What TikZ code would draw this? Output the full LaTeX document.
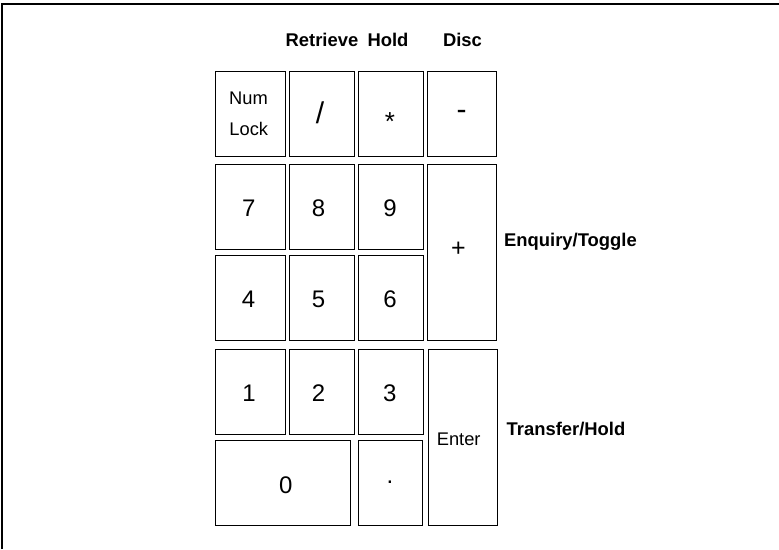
\documentclass[tikz,border=0pt]{standalone}
\usepackage{fontspec}
\setmainfont{Liberation Sans}
\begin{document}
\begin{tikzpicture}[x=1pt,y=-1pt,
  keybox/.style={draw=black,line width=1pt,fill=white},
  digit/.style={inner sep=0pt,anchor=base,font=\fontsize{24}{28}\selectfont},
  keytext/.style={inner sep=0pt,anchor=base,font=\fontsize{18.3}{22}\selectfont},
  boldlabel/.style={inner sep=0pt,font=\fontsize{18.4}{22}\selectfont\bfseries}]
\useasboundingbox (0,0) rectangle (779,549);
% frame
\coordinate (fbl) at (2.2,549);
\coordinate (ftl) at (2.2,4.3);
\coordinate (ftr) at (779,4.3);
\draw[line width=2pt] (fbl) -- (ftl) -- (ftr);
% key boxes
\draw[keybox] (215.3,71.7) rectangle (285.3,156.0);
\draw[keybox] (289.3,71.7) rectangle (354.3,156.0);
\draw[keybox] (358.3,71.7) rectangle (423.3,156.0);
\draw[keybox] (427.3,71.7) rectangle (496.3,156.0);
\draw[keybox] (215.3,164.3) rectangle (285.3,249.3);
\draw[keybox] (289.3,164.3) rectangle (354.3,249.3);
\draw[keybox] (358.3,164.3) rectangle (423.3,249.3);
\draw[keybox] (215.3,255.3) rectangle (285.3,340.7);
\draw[keybox] (289.3,255.3) rectangle (354.3,340.7);
\draw[keybox] (358.3,255.3) rectangle (423.3,340.7);
\draw[keybox] (427.3,164.3) rectangle (496.3,340.7);
\draw[keybox] (215.3,349.3) rectangle (285.3,434.3);
\draw[keybox] (289.3,349.3) rectangle (354.3,434.3);
\draw[keybox] (358.3,349.3) rectangle (423.3,434.3);
\draw[keybox] (215.3,440.3) rectangle (350.3,525.3);
\draw[keybox] (358.3,440.3) rectangle (422.7,525.3);
\draw[keybox] (428.3,349.3) rectangle (497.3,525.3);
% key texts
\node[keytext] (tnum) at (248.5,104.3) {Num};
\node[keytext] (tlock) at (248.8,135) {Lock};
\node[digit,font=\fontsize{30}{32}\selectfont] (tslash) at (320,123) {/};
\node[digit,font=\fontsize{26}{30}\selectfont] (tstar) at (390,130.5) {*};
\node[digit,font=\fontsize{30}{32}\selectfont] (tminus) at (461.7,119) {-};
\node[digit] (t7) at (248.8,216) {7};
\node[digit] (t8) at (318.5,216) {8};
\node[digit] (t9) at (390,216) {9};
\node[digit,font=\fontsize{25}{30}\selectfont] (tplus) at (458.3,256) {+};
\node[digit] (t4) at (248.5,307.7) {4};
\node[digit] (t5) at (318.5,307.7) {5};
\node[digit] (t6) at (390,307.7) {6};
\node[digit] (t1) at (249,401) {1};
\node[digit] (t2) at (318.5,401) {2};
\node[digit] (t3) at (389.7,401) {3};
\node[digit] (t0) at (285.8,493) {0};
\node[digit] (tdot) at (390,483.3) {.};
\node[keytext] (tenter) at (458.7,445) {Enter};
% function labels
\node[boldlabel,anchor=base] (lret) at (322,46.7) {Retrieve};
\node[boldlabel,anchor=base] (lhold) at (388,46.7) {Hold};
\node[boldlabel,anchor=base] (ldisc) at (462.5,46.7) {Disc};
\node[boldlabel,anchor=base west] (lenq) at (504,246) {Enquiry/Toggle};
\node[boldlabel,anchor=base west] (ltrans) at (506.5,435) {Transfer/Hold};
\end{tikzpicture}
\end{document}
